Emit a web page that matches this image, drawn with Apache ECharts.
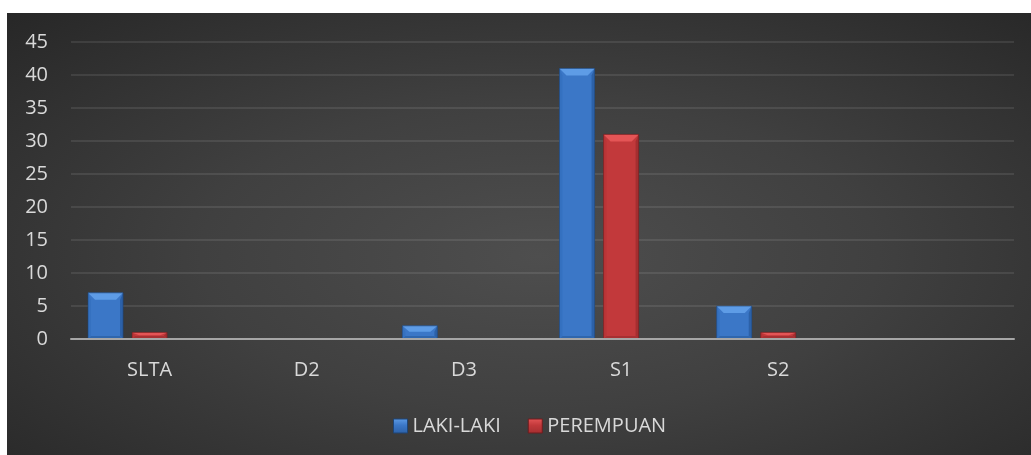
<!DOCTYPE html>
<html>
<head>
<meta charset="utf-8">
<script src="https://cdn.jsdelivr.net/npm/echarts@6/dist/echarts.min.js"></script>
<style>
html,body{margin:0;padding:0;background:#ffffff;width:1031px;height:455px;overflow:hidden;}
#chart{position:absolute;left:7px;top:13px;width:1024px;height:442px;
background:radial-gradient(ellipse farthest-corner at 52% 55%, #4e4e4e 0%, #404040 45%, #272727 100%);}
</style>
</head>
<body>
<div id="chart"></div>
<script>
const categories = ['SLTA', 'D2', 'D3', 'S1', 'S2', ''];
const seriesNames = ['LAKI-LAKI', 'PEREMPUAN'];
const lakiLaki = [7, 0, 2, 41, 5, 0];
const perempuan = [1, 0, 0, 31, 1, 0];
const yTicks = [0, 5, 10, 15, 20, 25, 30, 35, 40, 45];

const palettes = [
  {main:'#3b77c7', top:'#5e9ce6', left:'#3571c0', right:'#2c61a8', bottom:'#2f66ad', stroke:'#1e4577'},
  {main:'#c2393b', top:'#e45556', left:'#ba3537', right:'#a42e30', bottom:'#a73032', stroke:'#6e1d1e'}
];
const SLOTS = 3;

function makeRender(slot){
  const p = palettes[slot];
  return function(params, api){
    const cat = api.value(0), val = api.value(1);
    if (!val) return;
    const catW = api.size([1,0])[0];
    const bw = catW*35/157, gap = catW*9/157;
    const base = api.coord([cat, 0]);
    const top = api.coord([cat, val]);
    const groupW = SLOTS*bw + (SLOTS-1)*gap;
    const x0 = base[0] - groupW/2 + slot*(bw+gap);
    const y0 = top[1];
    const h = base[1] - top[1];
    const x1 = x0 + bw, y1 = y0 + h;
    const dy = Math.min(7, h*0.45);
    const dx = Math.min(7, bw/3);
    const ds = Math.min(3, bw/6);
    return {
      type:'group',
      children:[
        {type:'rect', shape:{x:x0, y:y0, width:bw, height:h}, style:{fill:p.main}},
        {type:'polygon', shape:{points:[[x0,y0],[x0+ds,y0+dy],[x0+ds,y1-ds],[x0,y1]]}, style:{fill:p.left}},
        {type:'polygon', shape:{points:[[x1,y0],[x1-ds,y0+dy],[x1-ds,y1-ds],[x1,y1]]}, style:{fill:p.right}},
        {type:'polygon', shape:{points:[[x0,y1],[x0+ds,y1-ds],[x1-ds,y1-ds],[x1,y1]]}, style:{fill:p.bottom}},
        {type:'polygon', shape:{points:[[x0,y0],[x1,y0],[x1-dx,y0+dy],[x0+dx,y0+dy]]}, style:{fill:p.top}},
        {type:'rect', shape:{x:x0, y:y0, width:bw, height:h}, style:{fill:'none', stroke:p.stroke, lineWidth:1, opacity:0.6}}
      ]
    };
  };
}

const valuesList = [lakiLaki, perempuan];
const series = seriesNames.map((name, s) => ({
  name: name,
  type: 'custom',
  renderItem: makeRender(s),
  encode: {x: 0, y: 1},
  itemStyle: {color: palettes[s].main},
  data: valuesList[s].map((v, i) => [i, v]),
  z: 2
}));

const chart = echarts.init(document.getElementById('chart'));
chart.setOption({
  backgroundColor: 'transparent',
  animation: false,
  textStyle: {fontFamily: 'Open Sans'},
  grid: {left: 64, right: 17, top: 29, bottom: 116, containLabel: false},
  legend: {
    left: 381, top: 398,
    itemWidth: 14, itemHeight: 14, itemGap: 27,
    textStyle: {color: '#d9d9d9', fontSize: 20, fontFamily: 'Open Sans'},
    data: seriesNames.map((n, s) => ({
      name: n, icon: 'rect',
      itemStyle: {color: {type:'linear', x:0, y:0, x2:0, y2:1, colorStops:[{offset:0, color:palettes[s].top},{offset:0.45, color:palettes[s].main},{offset:1, color:palettes[s].right}]}, borderColor: palettes[s].stroke, borderWidth: 1}
    }))
  },
  xAxis: {
    type: 'category',
    data: categories,
    axisTick: {show: false},
    axisLine: {lineStyle: {color: '#a6a6a6', width: 2}},
    axisLabel: {color: '#d9d9d9', fontSize: 20, margin: 21, fontFamily: 'Open Sans'},
    z: 5
  },
  yAxis: {
    type: 'value',
    min: yTicks[0], max: yTicks[yTicks.length-1], interval: yTicks[1]-yTicks[0],
    axisLine: {show: false},
    axisTick: {show: false},
    axisLabel: {color: '#d9d9d9', fontSize: 20, margin: 23, fontFamily: 'Open Sans'},
    splitLine: {lineStyle: {color: 'rgba(255,255,255,0.09)', width: 2}}
  },
  series: series
});
</script>
</body>
</html>
